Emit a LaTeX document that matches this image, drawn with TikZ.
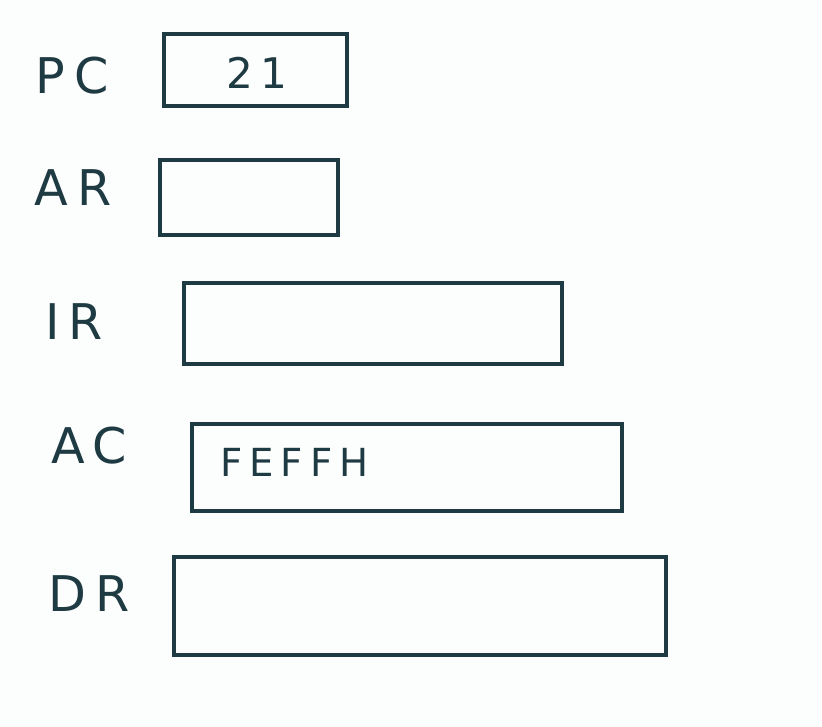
\documentclass[tikz,border=0pt]{standalone}
\usepackage{fontspec}
\newfontfamily\handfont[LetterSpace=18]{DejaVu Sans}
\usetikzlibrary{positioning}
\definecolor{ink}{RGB}{30,58,66}
\definecolor{paper}{RGB}{252,253,253}
\tikzset{
  reg/.style={draw=ink, line width=2pt, inner sep=0pt},
  reg label/.style={text=ink, font=\handfont\fontsize{28}{32}\selectfont, inner sep=0pt},
  reg value/.style={text=ink, font=\handfont\fontsize{24}{28}\selectfont, inner sep=0pt},
}

\begin{document}
\begin{tikzpicture}[x=0.02cm, y=-0.02cm]
  % Canvas
  \fill[paper] (0,0) rectangle (822,727);
  \useasboundingbox (0,0) rectangle (822,727);

  % Registers
  \node[reg, minimum width=183*0.02cm, minimum height=72*0.02cm] (pc) at (255.5,70) {};
  \node[reg, minimum width=178*0.02cm, minimum height=75*0.02cm] (ar) at (249,197.5) {};
  \node[reg, minimum width=378*0.02cm, minimum height=81*0.02cm] (ir) at (373,323.5) {};
  \node[reg, minimum width=430*0.02cm, minimum height=87*0.02cm] (ac) at (407,467.5) {};
  \node[reg, minimum width=492*0.02cm, minimum height=98*0.02cm] (dr) at (420,606) {};

  % Labels
  \node[reg label] (pclabel) at (72,76) {PC};
  \node[reg label] (arlabel) at (73,188) {AR};
  \node[reg label] (irlabel) at (74,322) {IR};
  \node[reg label] (aclabel) at (89,446) {AC};
  \node[reg label] (drlabel) at (89,594) {DR};

  % Contents
  \node[reg value] (pcvalue) at (257,73) {21};
  \node[reg value, anchor=west, font=\handfont\fontsize{22}{26}\selectfont] (acvalue) at (220,462) {FEFFH};
\end{tikzpicture}
\end{document}
